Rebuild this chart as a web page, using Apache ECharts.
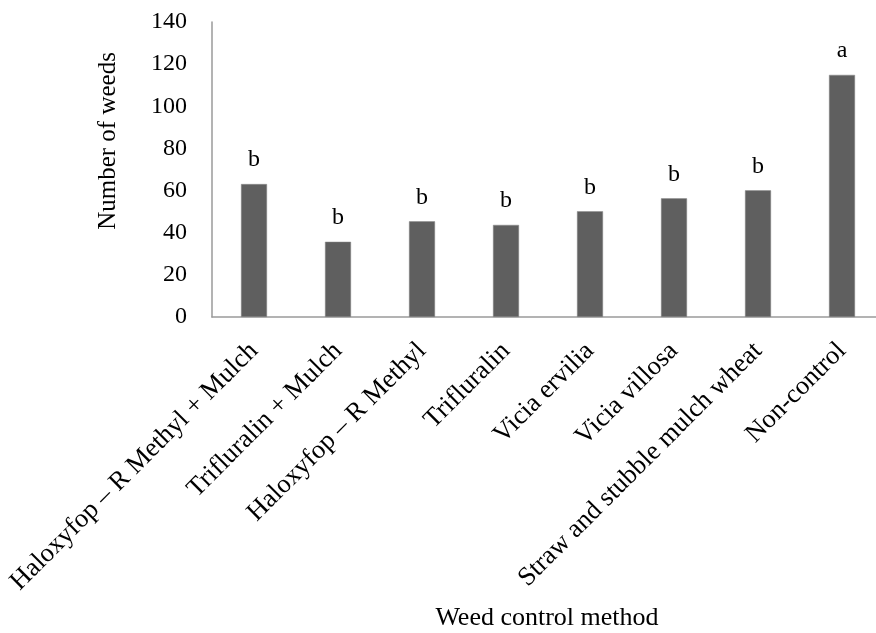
<!DOCTYPE html>
<html>
<head>
<meta charset="utf-8">
<script src="https://cdn.jsdelivr.net/npm/echarts@6/dist/echarts.min.js"></script>
<style>
html, body { margin: 0; padding: 0; background: #fff; overflow: hidden; }
#chart { width: 892px; height: 633px; }
</style>
</head>
<body>
<div id="chart"></div>
<script>
var categories = [
	"Haloxyfop \u2013 R Methyl + Mulch",
	"Trifluralin + Mulch",
	"Haloxyfop \u2013 R Methyl",
	"Trifluralin",
	"Vicia ervilia",
	"Vicia villosa",
	"Straw and stubble mulch wheat",
	"Non-control"
];
var weeds = [63.1, 35.7, 45.4, 43.7, 50.2, 56.3, 60.1, 114.9];
var letters = ["b", "b", "b", "b", "b", "b", "b", "a"];

var font = "Liberation Serif, Times New Roman, serif";

// the plot runs a little past the right edge of the picture, so the div is wider than the window
var chart = echarts.init(document.getElementById("chart"));
var option = {
	backgroundColor: "#ffffff",
	animation: false,
	grid: {
		left: 212,
		right: 8,
		top: 22,
		bottom: 316
	},
	xAxis: {
		type: "category",
		data: categories,
		axisLine: { show: true, lineStyle: { color: "#9a9a9a", width: 1.5 } },
		axisTick: { show: false },
		axisLabel: {
			rotate: 45,
			interval: 0,
			margin: 30,
			color: "#000",
			fontFamily: font,
			fontSize: 26.5
		}
	},
	yAxis: {
		type: "value",
		min: 0,
		max: 140,
		interval: 20,
		splitLine: { show: false },
		axisLine: { show: true, lineStyle: { color: "#9a9a9a", width: 1.5 } },
		axisTick: { show: false },
		axisLabel: {
			margin: 25,
			color: "#000",
			fontFamily: font,
			fontSize: 24
		}
	},
	series: [{
		type: "bar",
		data: weeds,
		barWidth: 26,
		itemStyle: { color: "#5f5f5f", borderColor: "#8a8a8a", borderWidth: 0.5 },
		label: {
			show: true,
			position: "top",
			distance: 12,
			color: "#000",
			fontFamily: font,
			fontSize: 24,
			formatter: function(p) {
				return letters[p.dataIndex];
			}
		}
	}],
	graphic: [{
		type: "text",
		x: 108,
		y: 141,
		rotation: Math.PI / 2,
		style: {
			text: "Number of weeds",
			align: "center",
			verticalAlign: "middle",
			fill: "#000",
			font: "25px " + font
		}
	}, {
		type: "text",
		x: 547,
		y: 618,
		style: {
			text: "Weed control method",
			align: "center",
			verticalAlign: "middle",
			fill: "#000",
			font: "26px " + font
		}
	}]
};
chart.setOption(option);
</script>
</body>
</html>
